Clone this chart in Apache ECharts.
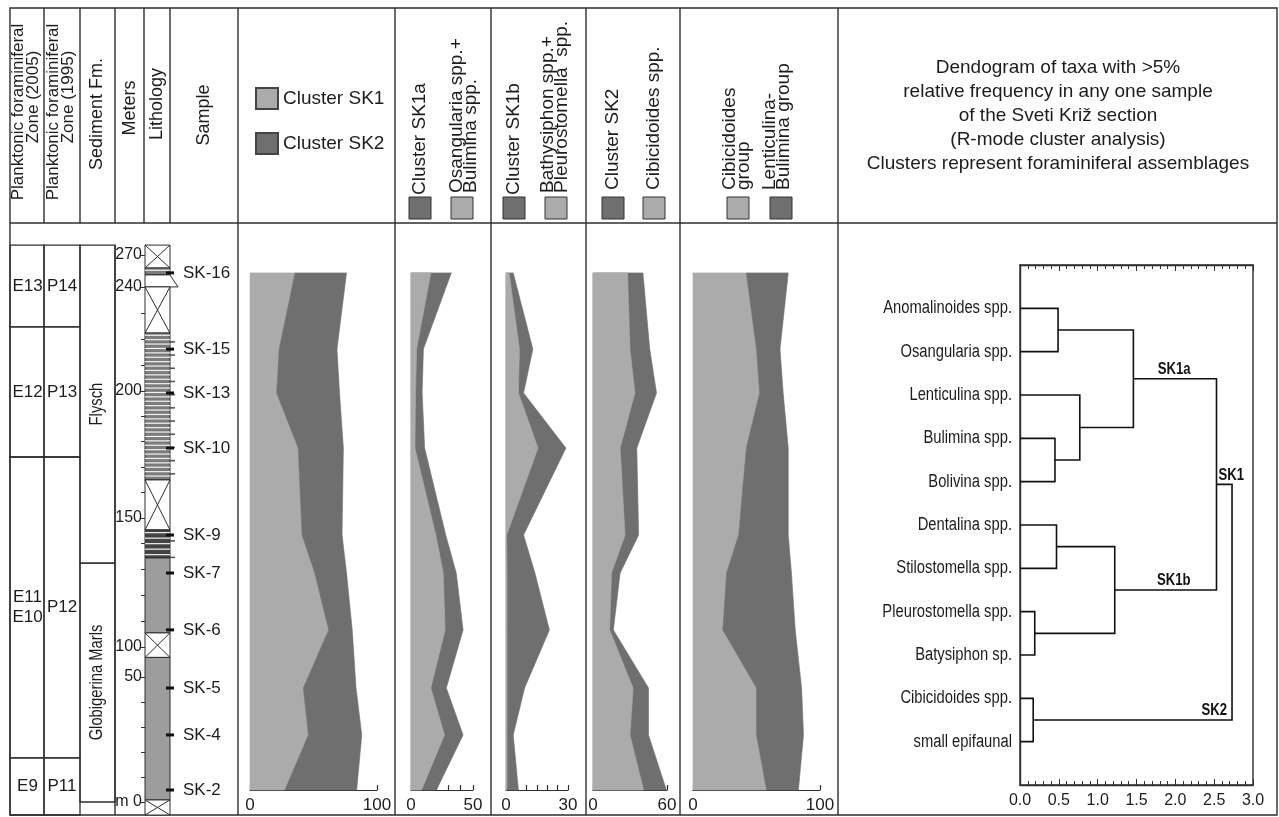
<!DOCTYPE html>
<html>
<head>
<meta charset="utf-8">
<title>Sveti Kriz section - foraminiferal assemblages</title>
<script src="https://cdn.jsdelivr.net/npm/echarts@6/dist/echarts.min.js"></script>
<style>
  html, body { margin: 0; padding: 0; background: #fff; }
  #main { width: 1279px; height: 817px; }
</style>
</head>
<body>
<div id="main"></div>
<script>
// samples from the top of the section down; position = height on the drawn log
// (the log is broken: 50-100 m and 240-270 m are squeezed)
var samples = ['SK-16', 'SK-15', 'SK-13', 'SK-10', 'SK-9', 'SK-7', 'SK-6', 'SK-5', 'SK-4', 'SK-2'];
var samplePos = [207.5, 177.6, 160.4, 138.8, 104.7, 89.8, 67.5, 44.7, 26.3, 4.7];

// relative frequency (%) per sample
var clusterSK1 = [35.5, 23, 21, 38, 41, 51, 62, 42, 46, 27.5];
var clusterSK2 = [40.5, 45.5, 49.5, 35.5, 31.5, 25, 18.5, 41.5, 42, 56.5];
var clusterSK1a = [32.5, 10, 9, 11, 28, 36.5, 42, 28.5, 42, 20.5];
var osangBulim = [16, 4.5, 3.7, 3.2, 20, 26, 27.5, 16, 27, 8.5];
var clusterSK1b = [3.5, 13, 8.5, 29, 8.5, 14, 21, 9, 3.5, 6];
var bathyPleuro = [1.5, 6.5, 6, 15.5, 0.3, 0.5, 0.5, 0.5, 0.5, 0.5];
var clusterSK2only = [40.5, 46, 51.5, 35.5, 37, 22, 16.5, 45, 45, 59.5];
var cibicidoidesSpp = [28, 30, 34, 22, 26, 15, 13.5, 32.5, 30, 41];
var cibicidoidesGroup = [42, 50, 52.5, 42, 36, 26.5, 23.5, 50, 50, 58];
var lentBulimGroup = [33, 18.5, 18.5, 33, 39, 51, 57, 35.5, 37, 25];

// meter scale of the log
var meterValues = [0, 50, 100, 150, 200, 240, 270];
var meterPos = [0, 49, 60.8, 111.4, 161.2, 202, 214.5];

// biozones and formations
var zone2005 = ['E13', 'E12', 'E11\nE10', 'E9'];
var zone1995 = ['P14', 'P13', 'P12', 'P11'];
var zoneTop = [218.4, 186.3, 135.3, 17.3];
var zoneBase = [186.3, 135.3, 17.3, -5.1];
var formation = ['Flysch', 'Globigerina Marls'];
var formationTop = [218.4, 93.7];
var formationBase = [93.7, 0];

// lithology column
var lithType = ['gap', 'flysch', 'lens', 'gap', 'flysch', 'gap', 'flyschDark', 'marl', 'gap', 'marl', 'gap'];
var lithTop = [218.4, 209.4, 206.7, 202.0, 183.9, 126.3, 106.7, 95.7, 66.3, 56.7, 0.8];
var lithBase = [209.4, 206.7, 202.0, 183.9, 126.3, 106.7, 95.7, 66.3, 56.7, 0.8, -5.1];

// dendrogram (R-mode): node 11+k joins mergeA[k] and mergeB[k]
var taxa = ['Anomalinoides spp.', 'Osangularia spp.', 'Lenticulina spp.', 'Bulimina spp.', 'Bolivina spp.',
  'Dentalina spp.', 'Stilostomella spp.', 'Pleurostomella spp.', 'Batysiphon sp.', 'Cibicidoides spp.', 'small epifaunal'];
var mergeA = [0, 3, 2, 11, 5, 7, 15, 14, 9, 18];
var mergeB = [1, 4, 12, 13, 6, 8, 16, 17, 10, 19];
var mergeDist = [0.49, 0.45, 0.77, 1.46, 0.47, 0.19, 1.22, 2.53, 0.17, 2.73];
var clusterNode = [14, 17, 18, 19];
var clusterName = ['SK1a', 'SK1b', 'SK1', 'SK2'];

// ---- layout / style ----
var TEXT = '#1c1c1c', LINE = '#2e2e2e', LIGHT = '#ababab', DARK = '#6f6f6f';
var REG = '"Liberation Sans", Arial, sans-serif';
var NARROW = 0.82;   // horizontal squeeze that mimics the condensed face of the original
var Y_TOP = 245, Y_AXIS = 790, Y_BASE = 802, Y_BOTTOM = 815, PX = 2.55;
function posAt(y) { return (Y_BASE - y) / PX; }

var panels = [
  { left: 250, width: 127, max: 100, step: 20 },
  { left: 411, width: 62, max: 50, step: 10 },
  { left: 506, width: 62, max: 30, step: 5 },
  { left: 593, width: 74, max: 60, step: 20 },
  { left: 693, width: 127, max: 100, step: 20 }
];
var LOG = 5, DEN = 6;
var labelGap = { SK1a: 26, SK1b: 26, SK1: -12, SK2: 5 };

function cumulate(a, b) { return a.map(function (v, i) { return v + b[i]; }); }

// filled band between lo and hi for one profile panel
function band(name, idx, lo, hi, color) {
  lo = lo || hi.map(function () { return 0; });
  return {
    type: 'custom', name: name, xAxisIndex: idx, yAxisIndex: idx,
    itemStyle: { color: color, borderColor: '#444', borderWidth: 1 },
    data: hi.map(function (v, i) { return [v, samplePos[i]]; }),
    renderItem: function (params, api) {
      if (params.dataIndex !== 0) return null;
      var pts = [];
      for (var i = 0; i < hi.length; i++) pts.push(api.coord([hi[i], samplePos[i]]));
      for (var j = lo.length - 1; j >= 0; j--) pts.push(api.coord([lo[j], samplePos[j]]));
      return { type: 'polygon', shape: { points: pts }, style: { fill: color, stroke: color, lineWidth: 0.6 } };
    }
  };
}

function lithShape(type, x, y1, w, y2) {
  var h = y2 - y1, kids = [];
  var box = { type: 'rect', shape: { x: x, y: y1, width: w, height: h }, style: { fill: '#fff', stroke: LINE, lineWidth: 1 } };
  if (type === 'gap') {
    kids.push(box);
    kids.push({ type: 'line', shape: { x1: x, y1: y1, x2: x + w, y2: y2 }, style: { stroke: LINE, lineWidth: 1 } });
    kids.push({ type: 'line', shape: { x1: x + w, y1: y1, x2: x, y2: y2 }, style: { stroke: LINE, lineWidth: 1 } });
  } else if (type === 'marl') {
    box.style.fill = '#9d9d9d';
    kids.push(box);
  } else if (type === 'lens') {
    kids.push({ type: 'polygon', shape: { points: [[x, y1], [x + w, y1], [x + w + 8, y2], [x, y2]] },
      style: { fill: '#fff', stroke: LINE, lineWidth: 1 } });
  } else {
    var dark = type === 'flyschDark';
    box.style.fill = dark ? '#444' : '#7c7c7c';
    kids.push(box);
    var step = dark ? 5.5 : 4.4, n = 0;
    for (var yy = y1 + step / 2; yy < y2 - 1; yy += step, n++) {
      kids.push({ type: 'line', shape: { x1: x, y1: yy, x2: x + w, y2: yy }, style: { stroke: '#f2f2f2', lineWidth: 1.2 } });
      if (n % 3 === 1) {
        kids.push({ type: 'line', shape: { x1: x + w, y1: yy + step / 2, x2: x + w + 5, y2: yy + step / 2 },
          style: { stroke: '#555', lineWidth: 1.6 } });
      }
    }
  }
  return { type: 'group', children: kids };
}

// dendrogram node table (leaves first)
var nodeY = taxa.map(function (t, i) { return i; });
var nodeH = taxa.map(function () { return 0; });
mergeA.forEach(function (a, k) {
  nodeY.push((nodeY[a] + nodeY[mergeB[k]]) / 2);
  nodeH.push(mergeDist[k]);
});

var series = [
  band('Cluster SK1', 0, null, clusterSK1, LIGHT),
  band('Cluster SK2', 0, clusterSK1, cumulate(clusterSK1, clusterSK2), DARK),
  band('Cluster SK1a', 1, null, clusterSK1a, DARK),
  band('Osangularia spp.+Bulimina spp.', 1, null, osangBulim, LIGHT),
  band('Cluster SK1b', 2, null, clusterSK1b, DARK),
  band('Bathysiphon spp.+Pleurostomella spp.', 2, null, bathyPleuro, LIGHT),
  band('Cluster SK2 ', 3, null, clusterSK2only, DARK),
  band('Cibicidoides spp.', 3, null, cibicidoidesSpp, LIGHT),
  band('Cibicidoides group', 4, null, cibicidoidesGroup, LIGHT),
  band('Lenticulina-Bulimina group', 4, cibicidoidesGroup, cumulate(cibicidoidesGroup, lentBulimGroup), DARK),
  {
    type: 'custom', name: 'zones', xAxisIndex: LOG, yAxisIndex: LOG, silent: true,
    data: zoneTop.map(function (t) { return [0.5, t]; }),
    renderItem: function (params, api) {
      var i = params.dataIndex;
      var y1 = api.coord([0, zoneTop[i]])[1], y2 = api.coord([0, zoneBase[i]])[1], ym = (y1 + y2) / 2;
      var st = { fill: 'none', stroke: LINE, lineWidth: 1.3 };
      return { type: 'group', children: [
        { type: 'rect', shape: { x: 10, y: y1, width: 34, height: y2 - y1 }, style: st },
        { type: 'rect', shape: { x: 44, y: y1, width: 36, height: y2 - y1 }, style: st },
        { type: 'text', x: 27.5, y: ym, style: { text: zone2005[i], font: '17px ' + REG, fill: TEXT, textAlign: 'center', textVerticalAlign: 'middle', lineHeight: 20 } },
        { type: 'text', x: 62, y: ym, style: { text: zone1995[i], font: '17px ' + REG, fill: TEXT, textAlign: 'center', textVerticalAlign: 'middle' } }
      ] };
    }
  },
  {
    type: 'custom', name: 'formations', xAxisIndex: LOG, yAxisIndex: LOG, silent: true,
    data: formationTop.map(function (t) { return [0.5, t]; }),
    renderItem: function (params, api) {
      var i = params.dataIndex;
      var y1 = api.coord([0, formationTop[i]])[1], y2 = api.coord([0, formationBase[i]])[1];
      return { type: 'group', children: [
        { type: 'rect', shape: { x: 80, y: y1, width: 35, height: y2 - y1 }, style: { fill: 'none', stroke: LINE, lineWidth: 1.3 } },
        { type: 'text', x: 97.5, y: (y1 + y2) / 2, rotation: Math.PI / 2, scaleX: NARROW,
          style: { text: formation[i], font: '18px ' + REG, fill: TEXT, textAlign: 'center', textVerticalAlign: 'middle' } }
      ] };
    }
  },
  {
    type: 'custom', name: 'lithology', xAxisIndex: LOG, yAxisIndex: LOG, silent: true,
    data: lithTop.map(function (t) { return [0.5, t]; }),
    renderItem: function (params, api) {
      var i = params.dataIndex, cs = params.coordSys;
      var y1 = api.coord([0, lithTop[i]])[1], y2 = api.coord([0, lithBase[i]])[1];
      return lithShape(lithType[i], cs.x, y1, cs.width, y2);
    }
  },
  {
    type: 'custom', name: 'samples', xAxisIndex: LOG, yAxisIndex: LOG, silent: true,
    data: samplePos.map(function (p) { return [1, p]; }),
    renderItem: function (params, api) {
      var i = params.dataIndex, cs = params.coordSys;
      var y = api.coord([0, samplePos[i]])[1];
      return { type: 'group', children: [
        { type: 'rect', shape: { x: cs.x + cs.width - 4, y: y - 1.5, width: 8, height: 3 }, style: { fill: '#111' } },
        { type: 'text', x: 183, y: y, style: { text: samples[i], font: '17px ' + REG, fill: TEXT, textAlign: 'left', textVerticalAlign: 'middle' } }
      ] };
    }
  },
  {
    type: 'custom', name: 'taxa', xAxisIndex: DEN, yAxisIndex: DEN, silent: true,
    data: taxa.map(function (t, i) { return [0, i]; }),
    renderItem: function (params, api) {
      var p = api.coord([0, params.dataIndex]);
      return { type: 'text', x: p[0] - 8, y: p[1], scaleX: NARROW,
        style: { text: taxa[params.dataIndex], font: '18px ' + REG, fill: TEXT, textAlign: 'right', textVerticalAlign: 'middle' } };
    }
  },
  {
    type: 'custom', name: 'dendrogram', xAxisIndex: DEN, yAxisIndex: DEN, silent: true,
    data: mergeDist.map(function (d, k) { return [d, nodeY[taxa.length + k]]; }),
    renderItem: function (params, api) {
      var k = params.dataIndex, id = taxa.length + k, a = mergeA[k], b = mergeB[k], h = nodeH[id];
      var pts = [api.coord([nodeH[a], nodeY[a]]), api.coord([h, nodeY[a]]), api.coord([h, nodeY[b]]), api.coord([nodeH[b], nodeY[b]])];
      var kids = [{ type: 'polyline', shape: { points: pts }, style: { stroke: '#111', lineWidth: 1.6, fill: 'none' } }];
      [a, b].forEach(function (c) {
        var n = clusterNode.indexOf(c);
        if (n < 0) return;
        var p = api.coord([h, nodeY[c]]);
        kids.push({ type: 'text', x: p[0] - labelGap[clusterName[n]], y: p[1] - 1, scaleX: NARROW,
          style: { text: clusterName[n], font: 'bold 16px ' + REG, fill: '#111', textAlign: 'right', textVerticalAlign: 'bottom' } });
      });
      return { type: 'group', children: kids };
    }
  }
];

// ---- axes ----
var grids = panels.map(function (p) {
  return { left: p.left, width: p.width, top: Y_TOP, height: Y_AXIS - Y_TOP };
});
grids.push({ left: 145, width: 25, top: Y_TOP, height: Y_BOTTOM - Y_TOP });
grids.push({ left: 1020, width: 233, top: 265, height: 520, show: true, borderColor: LINE, borderWidth: 1.4 });

var xAxes = panels.map(function (p, i) {
  return {
    type: 'value', gridIndex: i, min: 0, max: p.max, interval: p.step,
    axisLine: { onZero: false, lineStyle: { color: LINE, width: 1.2 } },
    axisTick: { inside: true, length: 5, lineStyle: { color: LINE, width: 1.2 } },
    splitLine: { show: false },
    axisLabel: {
      margin: 7, color: TEXT, fontSize: 17, fontFamily: REG,
      formatter: function (v) { return v === 0 || v === p.max ? String(v) : ''; }
    }
  };
});
xAxes.push({ type: 'value', gridIndex: LOG, min: 0, max: 1, show: false });
var denX = {
  type: 'value', gridIndex: DEN, min: 0, max: 3, interval: 0.5,
  axisLine: { onZero: false, lineStyle: { color: LINE, width: 1.4 } },
  axisTick: { inside: true, length: 6, lineStyle: { color: LINE } },
  minorTick: { show: true, splitNumber: 5, length: 4, lineStyle: { color: LINE } },
  splitLine: { show: false },
  axisLabel: { margin: 8, color: TEXT, fontSize: 16, fontFamily: REG, formatter: function (v) { return v.toFixed(1); } }
};
xAxes.push(denX);
xAxes.push(Object.assign({}, denX, { position: 'top', axisLabel: { show: false } }));

// meter ticks every 10 m on the unbroken stretches of the log
function meterToPos(m) {
  for (var i = 1; i < meterValues.length; i++) {
    if (m <= meterValues[i]) {
      var f = (m - meterValues[i - 1]) / (meterValues[i] - meterValues[i - 1]);
      return meterPos[i - 1] + f * (meterPos[i] - meterPos[i - 1]);
    }
  }
  return meterPos[meterPos.length - 1];
}
var meterTicks = [];
for (var m = 0; m <= 50; m += 10) meterTicks.push(meterToPos(m));
for (m = 100; m <= 240; m += 10) meterTicks.push(meterToPos(m));
meterTicks.push(meterToPos(270));

var yAxes = panels.map(function (p, i) {
  return { type: 'value', gridIndex: i, min: posAt(Y_AXIS), max: posAt(Y_TOP), show: false };
});
yAxes.push({
  type: 'value', gridIndex: LOG, min: posAt(Y_BOTTOM), max: posAt(Y_TOP),
  axisLine: { show: true, lineStyle: { color: LINE, width: 1 } },
  axisTick: { show: true, length: 4, customValues: meterTicks, lineStyle: { color: LINE } },
  splitLine: { show: false },
  axisLabel: {
    customValues: meterPos, margin: 3, color: TEXT, fontSize: 16, fontFamily: REG,
    formatter: function (v) {
      var best = 0;
      meterPos.forEach(function (p, i) { if (Math.abs(p - v) < Math.abs(meterPos[best] - v)) best = i; });
      return best === 0 ? 'm 0' : String(meterValues[best]);
    }
  }
});
yAxes.push({
  type: 'value', gridIndex: DEN, min: -1, max: 11, interval: 1, inverse: true,
  axisLine: { show: true, lineStyle: { color: LINE, width: 1.4 } },
  axisTick: { show: false }, splitLine: { show: false }, axisLabel: { show: false }
});

// ---- table frame and headers ----
function ln(x1, y1, x2, y2) {
  return { type: 'line', silent: true, shape: { x1: x1, y1: y1, x2: x2, y2: y2 }, style: { stroke: LINE, lineWidth: 1.4 } };
}
function vtext(text, x, y, align, size) {
  return { type: 'text', x: x, y: y, rotation: Math.PI / 2, silent: true,
    style: { text: text, fill: TEXT, font: size + 'px ' + REG, textAlign: align, textVerticalAlign: 'middle', lineHeight: 14 } };
}
function key(x, color) {
  return { type: 'rect', silent: true, shape: { x: x, y: 197, width: 22, height: 22 }, style: { fill: color, stroke: '#333', lineWidth: 1 } };
}
var graphic = [
  { type: 'rect', silent: true, shape: { x: 10, y: 8, width: 1267, height: 807 }, style: { fill: 'none', stroke: LINE, lineWidth: 1.4 } },
  ln(10, 223, 1277, 223)
];
[44, 80, 115, 144, 170].forEach(function (x) { graphic.push(ln(x, 8, x, 223)); });
[238, 395, 491, 586, 680, 838].forEach(function (x) { graphic.push(ln(x, 8, x, 815)); });
graphic.push(ln(115, 245, 115, 815));
graphic.push(
  vtext('Planktonic foraminiferal', 18, 112, 'center', 17),
  vtext('Zone (2005)', 33, 97, 'center', 17),
  vtext('Planktonic foraminiferal', 53, 112, 'center', 17),
  vtext('Zone (1995)', 68, 97, 'center', 17),
  vtext('Sediment Fm.', 97.5, 114, 'center', 18),
  vtext('Meters', 130, 108, 'center', 18),
  vtext('Lithology', 157, 104, 'center', 18),
  vtext('Sample', 204, 115, 'center', 18),
  vtext('Cluster SK1a', 420, 195, 'left', 19),
  vtext('Osangularia spp.+\nBulimina spp.', 464, 193, 'left', 19),
  vtext('Cluster SK1b', 514, 195, 'left', 19),
  vtext('Bathysiphon spp.+\nPleurostomella  spp.', 555, 193, 'left', 19),
  vtext('Cluster SK2', 613, 190, 'left', 19),
  vtext('Cibicidoides spp.', 654, 190, 'left', 19),
  vtext('Cibicidoides\ngroup', 737, 190, 'left', 19),
  vtext('Lenticulina-\nBulimina group', 777, 190, 'left', 19),
  key(409, DARK), key(451, LIGHT), key(503, DARK), key(545, LIGHT),
  key(602, DARK), key(643, LIGHT), key(727, LIGHT), key(770, DARK),
  { type: 'text', x: 1058, y: 116, silent: true,
    style: { text: 'Dendogram of taxa with >5%\nrelative frequency in any one sample\nof the Sveti Križ section\n(R-mode cluster analysis)\nClusters represent foraminiferal assemblages',
      fill: TEXT, font: '19px ' + REG, textAlign: 'center', textVerticalAlign: 'middle', lineHeight: 24 } }
);

var myChart = echarts.init(document.getElementById('main'));
myChart.setOption({
  animation: false,
  backgroundColor: '#fff',
  legend: {
    data: ['Cluster SK1', 'Cluster SK2'], orient: 'vertical', left: 255, top: 87, padding: 0,
    itemWidth: 22, itemHeight: 21, itemGap: 22, icon: 'rect', selectedMode: false,
    textStyle: { fontSize: 19, color: TEXT, fontFamily: REG }
  },
  grid: grids,
  xAxis: xAxes,
  yAxis: yAxes,
  graphic: graphic,
  series: series
});
</script>
</body>
</html>
